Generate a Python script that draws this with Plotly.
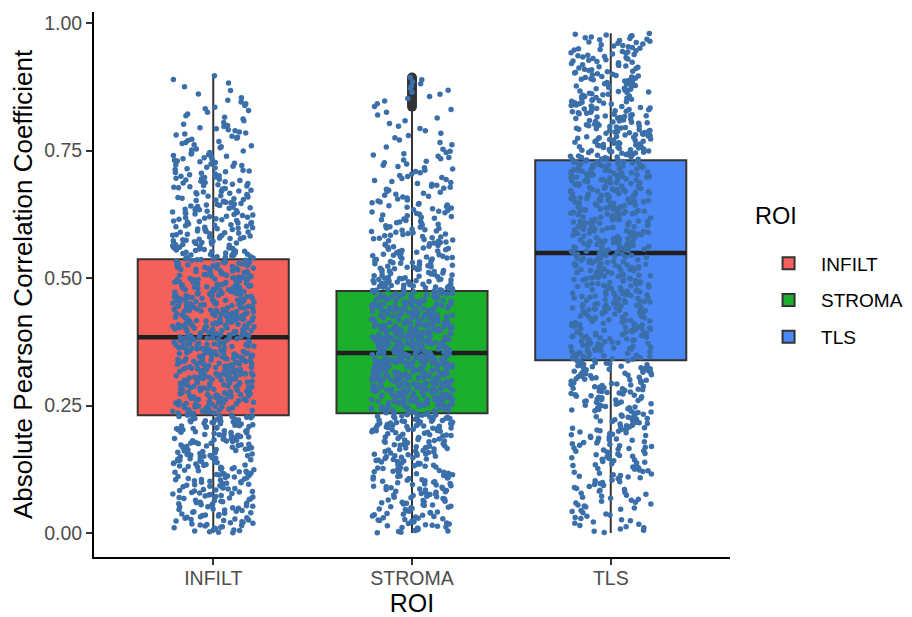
import math
import plotly.graph_objects as go

# ---------------- data ----------------
categories = ["INFILT", "STROMA", "TLS"]

# box statistics (ggplot boxplot)
q1 = [0.231, 0.235, 0.339]
median = [0.384, 0.353, 0.549]
q3 = [0.537, 0.4745, 0.731]
lower_whisker = [0.000, 0.000, 0.000]
upper_whisker = [0.898, 0.833, 0.980]

# jittered observations: counts per 0.05-wide bin, read from point density
bin_edges = [0.00, 0.05, 0.10, 0.15, 0.20, 0.25, 0.30, 0.35, 0.40, 0.45, 0.50,
             0.55, 0.60, 0.65, 0.70, 0.75, 0.80, 0.85, 0.90, 0.95, 1.00]
infilt_counts = [46, 50, 53, 57, 64, 79, 88, 90, 88, 81, 68, 55, 48, 42, 33, 24, 15, 7, 0, 0]
stroma_counts = [44, 46, 48, 53, 77, 110, 114, 114, 99, 79, 53, 42, 33, 26, 20, 11, 9, 11, 0, 0]
tls_counts = [22, 26, 33, 37, 42, 48, 51, 57, 59, 59, 62, 66, 70, 70, 68, 57, 53, 46, 40, 22]
max_values = [0.902, 0.895, 0.980]

# ---------------- styling ----------------
fill_colors = ["#F5605A", "#1BAF2B", "#4A88F8"]
point_color = "#3B6FAA"
line_color = "#333333"
BOX_W = 0.76
JITTER = 0.205
FONT = "Liberation Sans, Arial, Helvetica, sans-serif"


def frac_hash(n, salt):
    v = math.sin(n * 12.9898 + salt * 78.233) * 43758.5453
    return v - math.floor(v)


def spread(counts, vmax):
    ys = []
    for k, c in enumerate(counts):
        lo = bin_edges[k]
        hi = min(bin_edges[k + 1], vmax)
        for j in range(c):
            ys.append(lo + (j + 0.5) / c * (hi - lo))
    return ys


group_counts = [infilt_counts, stroma_counts, tls_counts]
group_values = [spread(c, m) for c, m in zip(group_counts, max_values)]

fig = go.Figure()

# boxes
for i, name in enumerate(categories):
    fig.add_trace(go.Box(
        x=[i], q1=[q1[i]], median=[median[i]], q3=[q3[i]],
        lowerfence=[lower_whisker[i]], upperfence=[upper_whisker[i]],
        name=name, legendgroup=name, width=BOX_W, whiskerwidth=0,
        fillcolor=fill_colors[i], line=dict(color=line_color, width=2),
        boxpoints=False, showlegend=True, hoverinfo="skip",
    ))

# thick median bars
for i, name in enumerate(categories):
    fig.add_trace(go.Scatter(
        x=[i - BOX_W / 2, i + BOX_W / 2], y=[median[i], median[i]],
        mode="lines", line=dict(color="#1F1F1F", width=4.5),
        showlegend=False, hoverinfo="skip", legendgroup=name,
    ))

# outliers (beyond the whiskers)
for i, name in enumerate(categories):
    out = [v for v in group_values[i] if v > upper_whisker[i] or v < lower_whisker[i]]
    if out:
        fig.add_trace(go.Scatter(
            x=[i] * len(out), y=out, mode="markers",
            marker=dict(color=line_color, size=10),
            showlegend=False, hoverinfo="skip", legendgroup=name,
        ))

# jittered points
for i, name in enumerate(categories):
    ys = group_values[i]
    xs = [i + (frac_hash(n + 1, i + 1) - 0.5) * 2 * JITTER for n in range(len(ys))]
    fig.add_trace(go.Scatter(
        x=xs, y=ys, mode="markers",
        marker=dict(color=point_color, size=5.5, line=dict(width=0)),
        showlegend=False, hoverinfo="skip", legendgroup=name,
    ))

axis_common = dict(
    showline=True, linecolor="#000000", linewidth=2,
    ticks="outside", ticklen=6, tickwidth=2, tickcolor=line_color,
    tickfont=dict(size=19.5, color="#4D4D4D", family=FONT),
    showgrid=False, zeroline=False,
)

fig.update_layout(
    width=904, height=609,
    margin=dict(l=86, r=182, t=4, b=60, autoexpand=False),
    plot_bgcolor="white", paper_bgcolor="white",
    boxmode="overlay",
    font=dict(family=FONT, color="#000000"),
    xaxis=dict(
        range=[-0.6, 2.6], tickvals=[0, 1, 2], ticktext=categories,
        ticklabelstandoff=-3,
        title=dict(text="ROI", font=dict(size=25, color="#000000"), standoff=6),
        **axis_common,
    ),
    yaxis=dict(
        range=[-0.047, 1.0216], tickvals=[0, 0.25, 0.5, 0.75, 1.0], tickformat=".2f",
        title=dict(text="Absolute Pearson Correlation Coefficient",
                   font=dict(size=26, color="#000000"), standoff=9),
        **axis_common,
    ),
    legend=dict(
        x=1.041, y=0.5735, xanchor="left", yanchor="top",
        font=dict(size=19, color="#000000"),
        itemwidth=55, tracegroupgap=9, bgcolor="rgba(0,0,0,0)",
    ),
    annotations=[dict(
        text="ROI", xref="paper", yref="paper", x=1.036, y=0.6265,
        xanchor="left", yanchor="middle", showarrow=False,
        font=dict(size=23.5, color="#000000"),
    )],
)

fig.write_html("out.html")
